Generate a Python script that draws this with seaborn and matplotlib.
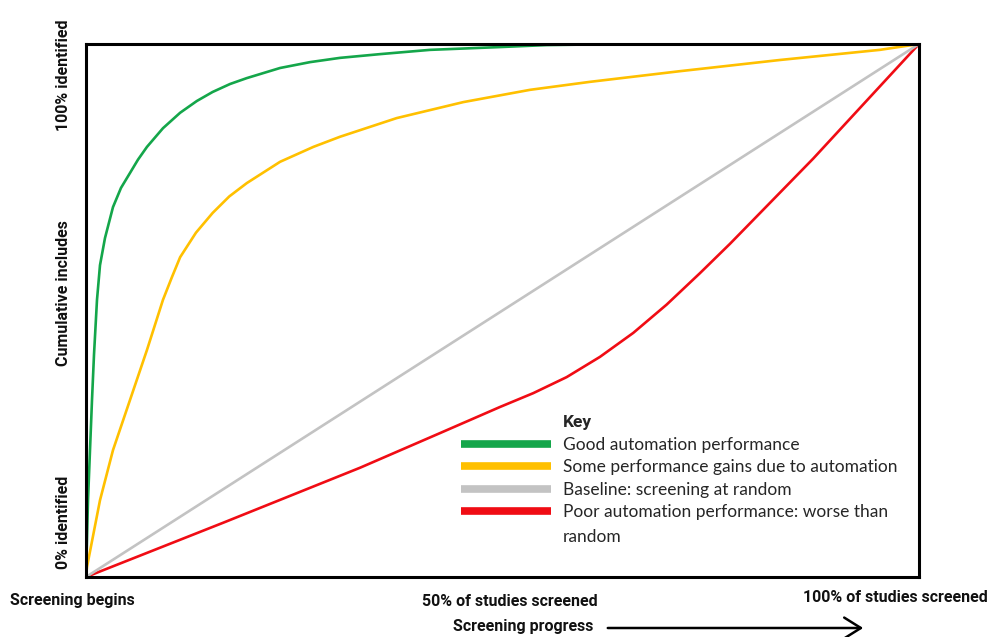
import numpy as np
import pandas as pd
import seaborn as sns
import matplotlib
matplotlib.use("Agg")
from matplotlib import pyplot as plt
from matplotlib.lines import Line2D
from matplotlib.patches import FancyArrowPatch

# curve values (x = share of studies screened, y = share of includes found)
goodX = [0.0, 0.0024, 0.0072, 0.0096, 0.0132, 0.0168, 0.0228, 0.0324, 0.042, 0.0528, 0.0624, 0.0732, 0.0924,
         0.113, 0.133, 0.152, 0.173, 0.193, 0.233, 0.269, 0.305, 0.353, 0.413, 0.493, 0.553, 0.65, 1.0]
goodY = [0.0, 0.144, 0.332, 0.417, 0.520, 0.585, 0.636, 0.694, 0.730, 0.758, 0.783, 0.807, 0.842,
         0.871, 0.893, 0.910, 0.925, 0.936, 0.955, 0.966, 0.974, 0.981, 0.989, 0.994, 0.998, 1.0, 1.0]

someX = [0.0, 0.0012, 0.0168, 0.0324, 0.0528, 0.0732, 0.0924, 0.103, 0.113, 0.132, 0.152, 0.172, 0.193, 0.233,
         0.273, 0.305, 0.373, 0.453, 0.533, 0.605, 0.713, 0.833, 0.953, 1.0]
someY = [0.0, 0.019, 0.144, 0.238, 0.332, 0.426, 0.520, 0.562, 0.600, 0.646, 0.683, 0.714, 0.739, 0.779,
         0.807, 0.826, 0.861, 0.891, 0.914, 0.929, 0.949, 0.970, 0.989, 1.0]

baseX = [0.0, 1.0]
baseY = [0.0, 1.0]

poorX = [0.0, 0.165, 0.329, 0.425, 0.497, 0.537, 0.577, 0.617, 0.657, 0.697, 0.737, 0.773, 0.818, 0.873, 1.0]
poorY = [0.0, 0.102, 0.205, 0.270, 0.319, 0.345, 0.375, 0.413, 0.458, 0.511, 0.570, 0.625, 0.697, 0.785, 1.0]

labels = ["Good automation performance",
          "Some performance gains due to automation",
          "Baseline: screening at random",
          "Poor automation performance: worse than"]
labelTail = "random"
colours = ["#14a64a", "#ffc000", "#c3c3c3", "#f00c14"]

def main():
    sns.set_style("white")
    plt.rcParams['font.family'] = ['Lato', 'DejaVu Sans']

    series = [(goodX, goodY), (someX, someY), (baseX, baseY), (poorX, poorY)]
    frames = []
    for lab, (xs, ys) in zip(labels, series):
        frames.append(pd.DataFrame({"x": xs, "y": ys, "curve": lab}))
    df = pd.concat(frames, ignore_index=True)

    fig = plt.figure(figsize=(9.92, 6.37), dpi=100)
    ax = fig.add_axes([86/992, 1-577/637, (919-86)/992, (577-44)/637])

    # draw back to front: baseline, poor, some, good
    for lab, col in zip(labels[::-1], colours[::-1]):
        sns.lineplot(data=df[df.curve == lab], x="x", y="y", color=col,
                     linewidth=1.9, estimator=None, sort=False, ax=ax, legend=False,
                     solid_joinstyle="round")

    ax.set_xlim(0, 1)
    ax.set_ylim(0, 1)
    ax.set_xticks([])
    ax.set_yticks([])
    ax.set_xlabel("")
    ax.set_ylabel("")
    for sp in ax.spines.values():
        sp.set_color("black")
        sp.set_linewidth(2.2)

    handles = [Line2D([], [], color=c, linewidth=5.5, solid_capstyle="butt") for c in colours]
    leg = ax.legend(handles, labels, loc="upper left", bbox_to_anchor=(461/992, 1-437/637),
                    bbox_transform=fig.transFigure, frameon=False, fontsize=12.5,
                    handlelength=5.2, handletextpad=0.7, labelspacing=0.37,
                    borderpad=0, borderaxespad=0)
    for t in leg.get_texts():
        t.set_color("#262626")
    fig.text(563/992, 1-537/637, labelTail, fontsize=12.5, color="#262626", va="center", ha="left")
    fig.text(563/992, 1-423/637, "Key", fontsize=12.5, fontweight="bold", va="center", ha="left",
             family=['Roboto', 'DejaVu Sans'])

    # axis annotations
    bold = dict(fontsize=11.5, fontweight="bold", family=['Roboto', 'DejaVu Sans'], color="#111111")
    fig.text(63/992, 1-75/637, "100% identified", rotation=90, ha="center", va="center", **bold)
    fig.text(63/992, 1-293/637, "Cumulative includes", rotation=90, ha="center", va="center", **bold)
    fig.text(63/992, 1-522/637, "0% identified", rotation=90, ha="center", va="center", **bold)

    fig.text(10/992, 1-600/637, "Screening begins", ha="left", va="center", **bold)
    fig.text(510/992, 1-602/637, "50% of studies screened", ha="center", va="center", **bold)
    fig.text(988/992, 1-597/637, "100% of studies screened", ha="right", va="center", **bold)
    fig.text(593/992, 1-627/637, "Screening progress", ha="right", va="center", **bold)
    fig.add_artist(FancyArrowPatch((605/992, 1-628/637), (866/992, 1-628/637),
                   transform=fig.transFigure, arrowstyle="->,head_length=8,head_width=5",
                   color="black", linewidth=1.8, mutation_scale=1.5))

    fig.savefig("out.png", dpi=100)

if(__name__=="__main__"): main()
